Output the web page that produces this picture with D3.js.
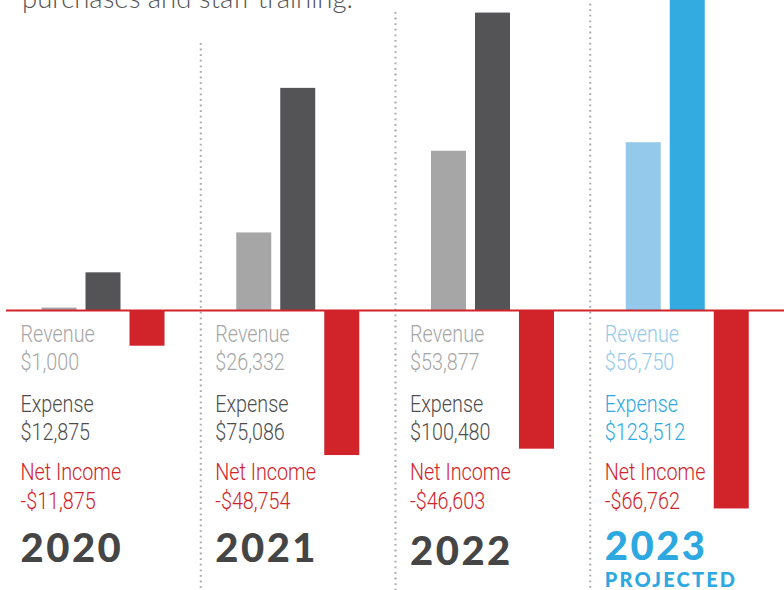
<!DOCTYPE html>
<html>
<head>
<meta charset="utf-8">
<script src="https://cdn.jsdelivr.net/npm/d3@7/dist/d3.min.js"></script>
<style>
  html, body { margin: 0; padding: 0; background: #ffffff; }
  svg { display: block; }
  .small { font-family: "Roboto", "Liberation Sans", sans-serif; font-size: 23px; font-weight: 300; }
  .yr { font-family: "Lato", "Noto Sans", sans-serif; font-weight: 900; font-size: 40px; letter-spacing: 2.5px; }
  .proj { font-family: "Lato", "Noto Sans", sans-serif; font-weight: 900; font-size: 20px; letter-spacing: 2.2px; }
  .intro { font-family: "Lato", "Open Sans", sans-serif; font-weight: 300; font-size: 27.5px; fill: #555; }
</style>
</head>
<body>
<svg id="chart" width="784" height="590"></svg>
<script>
// Yearly figures, 2023 is a projection
const years = ["2020", "2021", "2022", "2023"];
const revenue = [1000, 26332, 53877, 56750];
const expense = [12875, 75086, 100480, 123512];
const netIncome = [-11875, -48754, -46603, -66762];
const projected = [false, false, false, true];
const introText = "purchases and staff training.";

const W = 784, H = 590;
const svg = d3.select("#chart");

const palette = {
  actual:    { rev: "#a6a6a6", exp: "#545456", net: "#d1232a", revText: "#a6a6a6", expText: "#4d4d4d" },
  projected: { rev: "#95c9ec", exp: "#34abe0", net: "#d1232a", revText: "#95c9ec", expText: "#2ea8e0" }
};

const x = d3.scaleBand().domain(years).range([0, 779]);
const inner = d3.scaleBand().domain(["rev", "exp", "net"]).range([41.5, 164.5]).paddingInner(9 / 44);
const y = d3.scaleLinear().domain([0, 100000]).range([310.5, 14]);

// Intro sentence (continues from above the chart)
svg.append("text").attr("class", "intro").attr("x", 22).attr("y", 8).text(introText);

// Dotted separators between years
const sepTop = { "2021": 43, "2022": 12, "2023": -2 };
svg.selectAll("line.sep").data(years.slice(1)).enter().append("line")
  .attr("class", "sep")
  .attr("x1", d => x(d) + 6).attr("x2", d => x(d) + 6)
  .attr("y1", d => sepTop[d]).attr("y2", H)
  .attr("stroke", "#a9a9a9").attr("stroke-width", 2)
  .attr("stroke-dasharray", "1.8,3.8");

const rows = years.map((yr, i) => ({
  year: yr, rev: revenue[i], exp: expense[i], net: netIncome[i], proj: projected[i]
}));

const fmt = v => (v < 0 ? "-$" : "$") + d3.format(",")(Math.abs(v));

const g = svg.selectAll("g.grp").data(rows).enter().append("g")
  .attr("class", "grp")
  .attr("transform", d => `translate(${x(d.year)},0)`);

// Bars
["rev", "exp", "net"].forEach(k => {
  g.append("rect")
    .attr("x", inner(k))
    .attr("width", inner.bandwidth())
    .attr("y", d => Math.min(y(d[k]), y(0)))
    .attr("height", d => Math.abs(y(d[k]) - y(0)))
    .attr("fill", d => (d.proj ? palette.projected : palette.actual)[k]);
});

// Zero line
svg.append("line")
  .attr("x1", 6).attr("x2", W)
  .attr("y1", y(0)).attr("y2", y(0))
  .attr("stroke", "#d1232a").attr("stroke-width", 2);

// Labels (condensed by a horizontal squeeze)
const tx = 20.5;
const squeeze = 0.86;
const lines = [
  { y: 341.5, text: d => "Revenue", color: d => (d.proj ? palette.projected : palette.actual).revText },
  { y: 370,   text: d => fmt(d.rev), color: d => (d.proj ? palette.projected : palette.actual).revText },
  { y: 411.5, text: d => "Expense", color: d => (d.proj ? palette.projected : palette.actual).expText },
  { y: 440,   text: d => fmt(d.exp), color: d => (d.proj ? palette.projected : palette.actual).expText },
  { y: 480,   text: d => "Net Income", color: d => "#d1232a" },
  { y: 508.5, text: d => fmt(d.net), color: d => "#d1232a" }
];
lines.forEach(l => {
  g.append("text").attr("class", "small")
    .attr("transform", `translate(${tx},${l.y}) scale(${squeeze},1)`)
    .attr("fill", l.color)
    .text(l.text);
});

g.append("text").attr("class", "yr")
  .attr("x", tx).attr("y", d => d.year === "2022" ? 565 : d.proj ? 560 : 562)
  .attr("fill", d => d.proj ? "#2ea8e0" : "#454545")
  .text(d => d.year);

g.filter(d => d.proj).append("text").attr("class", "proj")
  .attr("x", tx).attr("y", 586.5)
  .attr("fill", "#2ea8e0")
  .text("PROJECTED");
</script>
</body>
</html>
